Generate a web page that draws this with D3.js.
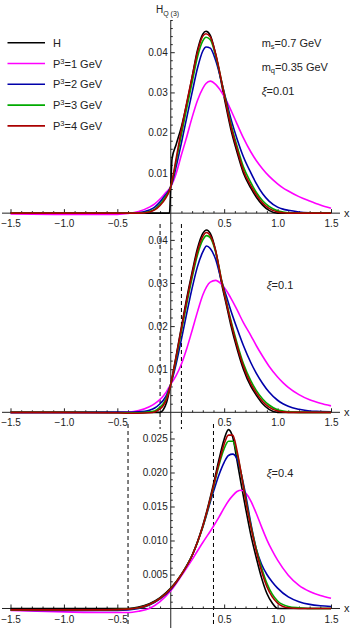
<!DOCTYPE html>
<html>
<head>
<meta charset="utf-8">
<script src="https://cdn.jsdelivr.net/npm/d3@7"></script>
<style>
body { margin: 0; background: #fff; }
svg { font-family: "Liberation Sans", Arial, sans-serif; }
</style>
</head>
<body>
<div id="chart"></div>
<script>
// ---- data ----
// top panel, xi = 0.01
var xTop  = [-1.5, -1.0, -0.5, -0.4, -0.3, -0.2, -0.15, -0.1, -0.05, -0.012, 0, 0.012, 0.05, 0.1, 0.15, 0.2, 0.25, 0.3, 0.33, 0.37, 0.42, 0.5, 0.57, 0.62, 0.68, 0.75, 0.8, 0.86, 0.92, 1.0, 1.05, 1.1, 1.2, 1.3, 1.4, 1.5];
var hTop  = [0, 0, 0, 0, 0, 0, 0, 0, 0, 0, 0.0068, 0.0135, 0.0170, 0.0215, 0.0272, 0.0338, 0.0405, 0.0445, 0.0452, 0.0442, 0.0395, 0.0288, 0.0200, 0.0152, 0.0100, 0.0062, 0.0040, 0.0020, 0.0007, 0, 0, 0, 0, 0, 0, 0];
var p1Top = [-0.0002, -0.0003, -0.0003, -0.0001, 0.0004, 0.0015, 0.0023, 0.0035, 0.0050, 0.0061, 0.0066, 0.0072, 0.0098, 0.0145, 0.0190, 0.0238, 0.0280, 0.0310, 0.0322, 0.0328, 0.0320, 0.0290, 0.0252, 0.0222, 0.0187, 0.0152, 0.0131, 0.0110, 0.0092, 0.0073, 0.0063, 0.0055, 0.0041, 0.0030, 0.0020, 0.0012];
var p2Top = [0, 0, 0, 0, 0.0001, 0.0008, 0.0015, 0.0028, 0.0045, 0.0059, 0.0066, 0.0075, 0.0115, 0.0175, 0.0238, 0.0300, 0.0360, 0.0403, 0.0413, 0.0410, 0.0380, 0.0300, 0.0228, 0.0185, 0.0140, 0.0100, 0.0074, 0.0048, 0.0030, 0.0015, 0.0010, 0.0007, 0.0003, 0.0001, 0, 0];
var p3Top = [0, 0, 0, 0, 0, 0.0004, 0.0010, 0.0022, 0.0040, 0.0057, 0.0066, 0.0078, 0.0128, 0.0195, 0.0262, 0.0325, 0.0388, 0.0428, 0.0437, 0.0431, 0.0392, 0.0298, 0.0215, 0.0167, 0.0115, 0.0076, 0.0052, 0.0031, 0.0017, 0.0006, 0.0003, 0.0001, 0, 0, 0, 0];
var p4Top = [0, 0, 0, 0, 0, 0.0003, 0.0008, 0.0019, 0.0036, 0.0056, 0.0066, 0.0080, 0.0135, 0.0208, 0.0275, 0.0338, 0.0400, 0.0440, 0.0446, 0.0438, 0.0396, 0.0295, 0.0208, 0.0160, 0.0106, 0.0068, 0.0046, 0.0025, 0.0012, 0.0003, 0.0001, 0, 0, 0, 0, 0];

// middle panel, xi = 0.1
var xMid  = [-1.5, -1.0, -0.5, -0.4, -0.3, -0.2, -0.15, -0.1, -0.07, -0.04, 0, 0.05, 0.1, 0.15, 0.2, 0.25, 0.3, 0.335, 0.37, 0.42, 0.475, 0.52, 0.56, 0.62, 0.68, 0.75, 0.8, 0.86, 0.92, 1.0, 1.05, 1.1, 1.2, 1.3, 1.4, 1.5];
var hMid  = [0, 0, 0, 0, 0, 0, 0, 0, 0.0006, 0.0022, 0.0065, 0.0130, 0.0198, 0.0265, 0.0325, 0.0380, 0.0415, 0.0423, 0.0415, 0.0375, 0.0300, 0.0250, 0.0205, 0.0148, 0.0100, 0.0060, 0.0040, 0.0020, 0.0007, 0, 0, 0, 0, 0, 0, 0];
var p1Mid = [-0.0001, -0.0001, -0.0001, 0, 0.0004, 0.0013, 0.0020, 0.0030, 0.0038, 0.0048, 0.0065, 0.0085, 0.0112, 0.0148, 0.0190, 0.0233, 0.0272, 0.0291, 0.0302, 0.0306, 0.0297, 0.0283, 0.0266, 0.0238, 0.0208, 0.0178, 0.0155, 0.0130, 0.0107, 0.0082, 0.0069, 0.0058, 0.0041, 0.0029, 0.0021, 0.0015];
var p2Mid = [0, 0, 0, 0, 0.0001, 0.0005, 0.0010, 0.0020, 0.0028, 0.0040, 0.0065, 0.0112, 0.0170, 0.0230, 0.0288, 0.0338, 0.0372, 0.0386, 0.0380, 0.0355, 0.0305, 0.0270, 0.0238, 0.0195, 0.0155, 0.0115, 0.0091, 0.0067, 0.0047, 0.0028, 0.0020, 0.0014, 0.0007, 0.0003, 0.0002, 0.0001];
var p3Mid = [0, 0, -0.0001, -0.0001, -0.0001, 0.0001, 0.0003, 0.0012, 0.0020, 0.0034, 0.0065, 0.0123, 0.0188, 0.0252, 0.0312, 0.0365, 0.0400, 0.0410, 0.0405, 0.0372, 0.0308, 0.0258, 0.0216, 0.0161, 0.0113, 0.0073, 0.0051, 0.0031, 0.0017, 0.0006, 0.0003, 0.0001, 0, 0, 0, 0];
var p4Mid = [0, 0, -0.0001, -0.0002, -0.0002, -0.0001, 0.0001, 0.0008, 0.0016, 0.0030, 0.0065, 0.0128, 0.0195, 0.0260, 0.0320, 0.0373, 0.0408, 0.0417, 0.0410, 0.0375, 0.0306, 0.0255, 0.0212, 0.0155, 0.0107, 0.0066, 0.0045, 0.0025, 0.0012, 0.0003, 0.0001, 0, 0, 0, 0, 0];

// bottom panel, xi = 0.4
var xBot  = [-1.5, -1.0, -0.6, -0.4, -0.3, -0.2, -0.1, 0, 0.1, 0.2, 0.3, 0.4, 0.45, 0.5, 0.54, 0.58, 0.62, 0.66, 0.7, 0.75, 0.8, 0.85, 0.9, 0.95, 1.0, 1.1, 1.2, 1.3, 1.4, 1.5];
var hBot  = [0, 0, 0, 0, 0.0002, 0.0007, 0.0016, 0.0030, 0.0050, 0.0078, 0.0122, 0.0183, 0.0218, 0.0249, 0.0263, 0.0252, 0.0218, 0.0182, 0.0148, 0.0108, 0.0075, 0.0045, 0.0022, 0.0008, 0, 0, 0, 0, 0, 0];
var p1Bot = [-0.0003, -0.0005, -0.0006, -0.0006, -0.0004, 0, 0.0010, 0.0026, 0.0048, 0.0072, 0.0097, 0.0121, 0.0134, 0.0148, 0.0158, 0.0166, 0.0172, 0.0174, 0.0170, 0.0158, 0.0140, 0.0120, 0.0101, 0.0085, 0.0071, 0.0049, 0.0034, 0.0025, 0.0019, 0.0015];
var p2Bot = [-0.0002, -0.0003, -0.0003, -0.0002, 0, 0.0005, 0.0014, 0.0028, 0.0050, 0.0078, 0.0120, 0.0172, 0.0196, 0.0215, 0.0225, 0.0227, 0.0220, 0.0198, 0.0168, 0.0125, 0.0088, 0.0065, 0.0050, 0.0039, 0.0030, 0.0017, 0.0010, 0.0006, 0.0004, 0.0003];
var p3Bot = [-0.0002, -0.0002, -0.0002, -0.0001, 0.0001, 0.0006, 0.0015, 0.0029, 0.0050, 0.0078, 0.0120, 0.0178, 0.0210, 0.0235, 0.0246, 0.0246, 0.0228, 0.0198, 0.0163, 0.0122, 0.0088, 0.0060, 0.0037, 0.0021, 0.0011, 0.0003, 0.0001, 0, 0, 0];
var p4Bot = [-0.0002, -0.0002, -0.0002, -0.0001, 0.0001, 0.0006, 0.0015, 0.0029, 0.0050, 0.0078, 0.0121, 0.0180, 0.0213, 0.0242, 0.0255, 0.0255, 0.0232, 0.0198, 0.0160, 0.0120, 0.0085, 0.0055, 0.0032, 0.0017, 0.0008, 0.0001, 0, 0, 0, 0];

var momenta = [1, 2, 3, 4];
var xiValues = [0.01, 0.1, 0.4];
var xTickValues = [-1.5, -1.0, -0.5, 0.5, 1.0, 1.5];
var colours = ["#000000", "#ff00ff", "#0000aa", "#00aa00", "#aa0000"];

// ---- layout ----
var width = 354, height = 628;

var svg = d3.select("#chart").append("svg")
    .attr("width", width)
    .attr("height", height);

var x = d3.scaleLinear().domain([-1.5, 1.5]).range([10.5, 331]);

var panels = [
    { xs: xTop, ys: [hTop, p1Top, p2Top, p3Top, p4Top], domain: [-0.0022, 0.048], range: [222, 20],
      major: 0.01, minor: 0.002, digits: 2, xiPos: [261.7, 95], dashTop: null },
    { xs: xMid, ys: [hMid, p1Mid, p2Mid, p3Mid, p4Mid], domain: [-0.0041, 0.04415], range: [430, 222],
      major: 0.01, minor: 0.002, digits: 2, xiPos: [266.7, 288.5], dashTop: 224 },
    { xs: xBot, ys: [hBot, p1Bot, p2Bot, p3Bot, p4Bot], domain: [-0.00287, 0.02625], range: [628, 430],
      major: 0.005, minor: 0.001, digits: 3, xiPos: [266.7, 477], dashTop: 424 }
];

panels.forEach(function(p, k) {
    var y = d3.scaleLinear().domain(p.domain).range(p.range);
    var g = svg.append("g");
    var y0 = y(0);

    // dashed lines at x = -xi and x = xi
    if (p.dashTop !== null) {
        [-xiValues[k], xiValues[k]].forEach(function(v) {
            g.append("line")
                .attr("x1", x(v)).attr("x2", x(v))
                .attr("y1", p.dashTop).attr("y2", p.range[0] - 1)
                .attr("stroke", "#000")
                .attr("stroke-width", 1)
                .attr("stroke-dasharray", "4,3");
        });
    }

    // axis lines
    g.append("line")
        .attr("x1", 2).attr("x2", 340)
        .attr("y1", y0).attr("y2", y0)
        .attr("stroke", "#222").attr("stroke-width", 1);
    g.append("line")
        .attr("x1", x(0)).attr("x2", x(0))
        .attr("y1", p.range[1]).attr("y2", p.range[0])
        .attr("stroke", "#222").attr("stroke-width", 1);

    // x ticks
    var xMinor = d3.range(-15, 16).filter(function(i) { return i % 5 !== 0; }).map(function(i) { return i / 10; });
    g.append("g")
        .attr("class", "x-axis minor")
        .attr("transform", "translate(0," + y0 + ")")
        .call(d3.axisBottom(x).tickValues(xMinor).tickSize(-2).tickFormat(""));

    var xAxis = d3.axisBottom(x).tickValues(xTickValues).tickSize(-4).tickPadding(7)
        .tickFormat(d3.format(".1f"));
    g.append("g")
        .attr("class", "x-axis axis")
        .attr("transform", "translate(0," + y0 + ")")
        .call(xAxis);

    // y ticks
    var nMaj = Math.floor(p.domain[1] / p.major + 1e-9);
    var yMajor = d3.range(1, nMaj + 1).map(function(i) { return i * p.major; });
    var ratio = Math.round(p.major / p.minor);
    var nMin = Math.floor(p.domain[1] / p.minor + 1e-9);
    var yMinor = d3.range(1, nMin + 1).filter(function(i) { return i % ratio !== 0; })
        .map(function(i) { return i * p.minor; });

    g.append("g")
        .attr("class", "y-axis minor")
        .attr("transform", "translate(" + x(0) + ",0)")
        .call(d3.axisLeft(y).tickValues(yMinor).tickSize(-2).tickFormat(""));

    g.append("g")
        .attr("class", "y-axis axis")
        .attr("transform", "translate(" + x(0) + ",0)")
        .call(d3.axisLeft(y).tickValues(yMajor).tickSize(-4).tickPadding(3)
            .tickFormat(d3.format("." + p.digits + "f")));

    g.selectAll(".domain").remove();
    g.selectAll(".tick line").attr("stroke", "#222");
    g.selectAll(".axis").attr("font-size", 10).attr("font-family", "'Liberation Sans', Arial, sans-serif");
    g.selectAll(".axis text").attr("fill", "#222");

    // "x" axis label
    g.append("text")
        .attr("x", 344)
        .attr("y", y0 + 4)
        .attr("font-size", 11)
        .attr("fill", "#222")
        .text("x");

    // curves
    var line = d3.line()
        .curve(d3.curveMonotoneX)
        .x(function(d, i) { return x(p.xs[i]); })
        .y(function(d) { return y(d); });

    p.ys.forEach(function(vals, s) {
        g.append("path")
            .attr("fill", "none")
            .attr("stroke", colours[s])
            .attr("stroke-width", 1.6)
            .attr("stroke-linejoin", "round")
            .attr("d", line(vals));
    });

    // xi label
    var t = g.append("text")
        .attr("x", p.xiPos[0])
        .attr("y", p.xiPos[1])
        .attr("font-size", 11)
        .attr("fill", "#222");
    t.append("tspan").attr("font-style", "italic").text("\u03BE");
    t.append("tspan").text("=" + xiValues[k]);
});

// y label on top panel
var hl = svg.append("text")
    .attr("x", 156)
    .attr("y", 13)
    .attr("font-size", 10)
    .attr("fill", "#222");
hl.append("tspan").text("H");
hl.append("tspan").attr("font-size", 7).attr("dy", 3).text("Q (3)");

// mass labels
var ms = svg.append("text").attr("x", 261.7).attr("y", 47).attr("font-size", 11).attr("fill", "#222");
ms.append("tspan").text("m");
ms.append("tspan").attr("font-size", 7.5).attr("dy", 2).text("s");
ms.append("tspan").attr("dy", -2).text("=0.7 GeV");

var mq = svg.append("text").attr("x", 261.7).attr("y", 71).attr("font-size", 11).attr("fill", "#222");
mq.append("tspan").text("m");
mq.append("tspan").attr("font-size", 7.5).attr("dy", 2).text("q");
mq.append("tspan").attr("dy", -2).text("=0.35 GeV");

// legend
var legendLabels = ["H"].concat(momenta);
var legend = svg.append("g");
legendLabels.forEach(function(lab, i) {
    var ly = 42.7 + i * 20.8;
    legend.append("line")
        .attr("x1", 7.5).attr("x2", 45)
        .attr("y1", ly).attr("y2", ly)
        .attr("stroke", colours[i])
        .attr("stroke-width", 1.6);
    var t = legend.append("text")
        .attr("x", 53)
        .attr("y", ly + 4)
        .attr("font-size", 11)
        .attr("fill", "#222");
    if (i === 0) {
        t.text("H");
    } else {
        t.append("tspan").text("P");
        t.append("tspan").attr("font-size", 7.5).attr("dy", -4).text("3");
        t.append("tspan").attr("dy", 4).text("=" + lab + " GeV");
    }
});
</script>
</body>
</html>
